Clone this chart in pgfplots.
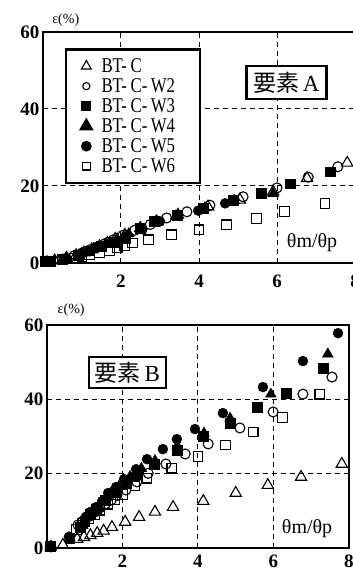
\documentclass[border=0pt]{standalone}
\usepackage{fontspec}
\setmainfont{Liberation Serif}
\newfontfamily\cjk{Noto Sans CJK JP}
\newfontfamily\cond[FakeStretch=0.8]{Liberation Serif}
\usepackage{pgfplots}
\pgfplotsset{compat=1.18}
\pgfplotsset{
  common/.style={
    scale only axis, clip=false,
    xmin=0, xmax=8, ymin=0, ymax=60,
    xtick={2,4,6,8}, ytick={0,20,40,60},
    grid=major,
    major grid style={black, line width=1pt, dash pattern=on 5pt off 4pt},
    axis line style={line width=2.8pt},
    tick style={draw=none},
    ticklabel style={font=\fontsize{19}{20}\selectfont\bfseries},
    /pgf/number format/assume math mode=true,
  },
  sBTC/.style={only marks, mark=triangle, mark size=6.5pt, mark options={black, fill=white, line width=1.1pt}},
  sW2/.style={only marks, mark=o, mark size=5pt, mark options={black, fill=white, line width=1.1pt}},
  sW3/.style={only marks, mark=square*, mark size=4.9pt, mark options={black, fill=black}},
  sW4/.style={only marks, mark=triangle*, mark size=6.2pt, mark options={black, fill=black}},
  sW5/.style={only marks, mark=*, mark size=5pt, mark options={black, fill=black}},
  sW6/.style={only marks, mark=square, mark size=4.9pt, mark options={black, fill=white, line width=1.1pt}},
}
\begin{document}
\begin{tikzpicture}
\useasboundingbox (0pt,0pt) rectangle (353pt,571pt);
% ---------- top: element A ----------
\begin{axis}[common, at={(43pt,308pt)}, anchor=south west, width=312pt, height=231pt,
  xticklabel style={yshift=-8pt},
  legend style={at={(rel axis cs:0.07,0.93)}, anchor=north west, draw=black, line width=2.6pt,
    font=\cond\fontsize{21}{21}\selectfont, nodes={inner sep=1pt}, row sep=2.6pt,
    inner xsep=15pt, inner ysep=8pt,
    /tikz/every odd column/.append style={column sep=9pt},
    cells={anchor=west}},
  legend image code/.code={\draw[#1] plot coordinates {(0pt,0pt)};},
  legend cell align=left]
\addplot[sW6, forget plot] coordinates {(0.1,0.3)(0.5,0.8)(0.8,1.3)(1.0,1.7)(1.2,2.2)(1.45,2.7)(1.7,3.3)(1.9,3.9)(2.1,4.5)(2.3,5.2)(2.7,6.0)(3.3,7.3)(4.0,8.6)(4.7,9.9)(5.48,11.6)(6.2,13.3)(7.23,15.5)};
\addplot[sW5, forget plot] coordinates {(0.1,0.5)(0.6,1.3)(1.0,2.5)(1.4,4.0)(1.75,5.4)(2.1,6.8)(2.55,8.8)(3.0,10.8)(3.98,13.6)(4.67,15.5)};
\addplot[sW4, forget plot] coordinates {(0.1,0.4)(0.6,1.3)(1.0,2.6)(1.3,3.8)(1.6,4.9)(1.9,6.3)(2.2,7.6)(2.5,9.2)(2.9,10.9)(3.4,12.2)(4.15,14.3)(4.9,16.3)(5.9,18.0)};
\addplot[sW3, forget plot] coordinates {(0.05,0.4)(0.2,0.5)(0.55,1.1)(0.9,2.1)(1.2,3.2)(1.5,4.3)(1.8,5.4)(2.1,6.5)(2.5,9.0)(2.85,10.8)(3.45,12.4)(4.1,14.2)(4.88,16.3)(5.6,18.2)(6.33,20.6)(7.36,23.7)};
\addplot[sW2, forget plot] coordinates {(0.15,0.4)(0.5,1.0)(0.8,1.9)(1.0,2.6)(1.2,3.4)(1.4,4.2)(1.6,5.1)(1.8,6.0)(2.05,7.2)(2.35,8.5)(2.75,10.0)(3.17,11.7)(3.69,13.3)(4.28,15.0)(5.13,17.2)(6.0,19.5)(6.8,22.3)(7.56,25.0)};
\addplot[sBTC, forget plot] coordinates {(0.3,0.6)(0.6,1.3)(0.85,2.0)(1.05,2.7)(1.25,3.5)(1.45,4.3)(1.65,5.2)(1.85,6.2)(2.1,7.3)(2.49,9.0)(2.92,10.7)(3.46,12.5)(4.23,14.6)(5.05,16.4)(5.9,18.5)(6.77,22.0)(7.8,26.0)};
\addlegendimage{sBTC, mark size=5.6pt}\addlegendentry{BT-\,C\hspace*{9pt}}
\addlegendimage{sW2, mark size=3.6pt}\addlegendentry{BT-\,C-\,W2\hspace*{9pt}}
\addlegendimage{sW3, mark size=3.8pt}\addlegendentry{BT-\,C-\,W3\hspace*{9pt}}
\addlegendimage{sW4, mark size=6pt}\addlegendentry{BT-\,C-\,W4\hspace*{9pt}}
\addlegendimage{sW5, mark size=4pt}\addlegendentry{BT-\,C-\,W5\hspace*{9pt}}
\addlegendimage{sW6, mark size=3.8pt}\addlegendentry{BT-\,C-\,W6\hspace*{9pt}}
\node[draw=black, line width=2.6pt, fill=white, minimum width=80pt, minimum height=33pt, inner sep=2pt,
  font=\fontsize{23}{24}\selectfont] at (axis cs:6.24,46.9) {{\cjk 要素}\,A};
\node[font=\fontsize{20}{21}\selectfont, fill=white, inner sep=1pt] at (axis cs:6.9,5.2) {θm/θp};
\node[font=\fontsize{14}{15}\selectfont] at (rel axis cs:0.073,1.05) {ε(\%)};
\end{axis}
% ---------- bottom: element B ----------
\begin{axis}[common, at={(47pt,23pt)}, anchor=south west, width=302pt, height=223pt,
  xticklabel style={yshift=-3pt}]
\addplot[sW6] coordinates {(0.1,0.4)(0.78,5.0)(0.95,6.5)(1.1,7.8)(1.25,9.0)(1.4,10.2)(1.6,11.8)(1.8,13.1)(2.0,14.4)(2.33,16.7)(2.65,18.8)(3.31,21.5)(4.0,24.7)(4.72,27.7)(5.46,31.2)(6.23,35.2)(7.23,41.4)};
\addplot[sW5] coordinates {(0.08,0.3)(0.58,3.0)(1.03,8.4)(1.15,9.7)(1.3,11.0)(1.46,12.6)(1.62,14.8)(1.83,16.4)(2.04,18.5)(2.36,21.2)(2.65,23.9)(3.07,26.6)(3.44,29.3)(3.92,32.0)(4.66,36.3)(5.72,43.3)(6.78,50.3)(7.71,57.8)};
\addplot[sW4] coordinates {(0.1,0.4)(0.6,2.8)(0.95,6.0)(1.15,8.6)(1.35,10.8)(1.6,13.6)(1.9,16.5)(2.2,19.2)(2.5,21.4)(2.86,23.5)(3.45,27.5)(4.16,30.9)(4.85,34.9)(5.93,41.4)(7.44,52.2)};
\addplot[sW3] coordinates {(0.1,0.4)(0.6,2.7)(0.88,5.5)(1.0,7.2)(1.15,9.0)(1.3,10.6)(1.55,12.8)(1.8,15.0)(2.1,17.5)(2.4,19.8)(2.83,22.6)(3.44,26.3)(4.13,30.1)(4.85,33.6)(5.56,37.9)(6.33,41.7)(7.31,48.4)};
\addplot[sW2] coordinates {(0.1,0.3)(0.82,6.2)(0.95,7.2)(1.1,8.4)(1.25,9.6)(1.4,10.8)(1.55,11.9)(1.7,12.9)(1.85,14.1)(2.09,15.6)(2.38,17.8)(2.68,20.1)(3.15,22.6)(3.66,25.3)(4.27,28.0)(5.11,32.3)(5.99,36.6)(6.78,41.4)(7.55,46.0)};
\addplot[sBTC] coordinates {(0.1,0.3)(0.42,0.8)(0.8,2.4)(0.98,2.9)(1.15,3.4)(1.33,4.0)(1.5,4.6)(1.72,5.6)(2.07,7.0)(2.44,8.3)(2.86,9.7)(3.34,11.0)(4.14,12.6)(5.0,14.8)(5.85,16.9)(6.73,19.1)(7.81,22.6)};
\node[draw=black, line width=2.6pt, fill=white, minimum width=77pt, minimum height=31pt, inner sep=2pt,
  font=\fontsize{23}{24}\selectfont] at (axis cs:2.13,47.2) {{\cjk 要素}\,B};
\node[font=\fontsize{20}{21}\selectfont, fill=white, inner sep=1pt] at (axis cs:6.89,5.1) {θm/θp};
\node[font=\fontsize{14}{15}\selectfont] at (rel axis cs:0.08,1.067) {ε(\%)};
\end{axis}
\end{tikzpicture}
\end{document}
